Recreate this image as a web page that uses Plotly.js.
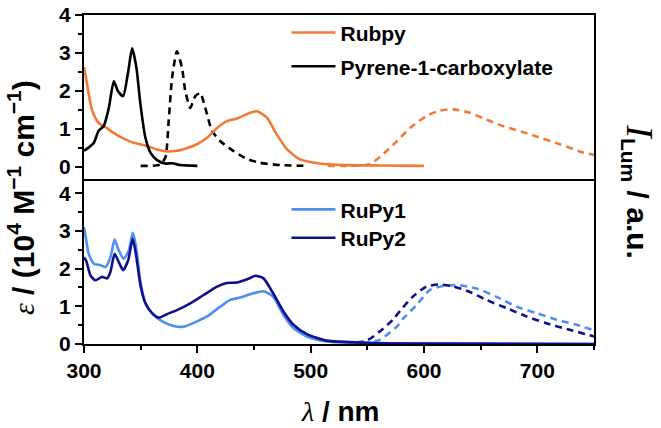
<!DOCTYPE html>
<html><head><meta charset="utf-8">
<script src="https://cdn.plot.ly/plotly-3.0.1.min.js"></script>
<style>html,body{margin:0;padding:0;background:#fff}</style>
</head><body>
<div id="chart" style="width:661px;height:428px"></div>
<script>
// ---- data ----
const rubpyAbsX = [300, 302, 304, 306, 308, 311.6, 316, 320, 326, 335, 343.9, 354, 364.5, 373, 380, 388, 399.7, 408.5, 417.4, 426, 435, 446.7, 452.6, 461.4, 470, 479, 490.7, 508, 532, 560, 600];
const rubpyAbsY = [2.62, 2.3, 1.95, 1.62, 1.42, 1.2, 1.08, 1.02, 0.89, 0.74, 0.63, 0.56, 0.45, 0.4, 0.41, 0.46, 0.59, 0.76, 1.02, 1.2, 1.27, 1.42, 1.46, 1.29, 0.85, 0.46, 0.19, 0.08, 0.04, 0.03, 0.02];
const rubpyEmX = [515, 535, 552, 564, 576, 587.7, 602, 614, 625.8, 640.5, 655, 669.9, 693.4, 719.8, 740.4, 750];
const rubpyEmY = [0.02, 0.02, 0.06, 0.33, 0.67, 1.02, 1.33, 1.48, 1.51, 1.42, 1.24, 1.07, 0.85, 0.59, 0.37, 0.31];
const pyreneAbsX = [300, 304, 308.6, 313, 317.4, 321.9, 326.3, 330, 334.5, 339, 342.5, 346.3, 349.8, 354.2, 358.6, 364.5, 371.8, 377.7, 385, 400];
const pyreneAbsY = [0.42, 0.5, 0.62, 0.95, 1.07, 1.55, 2.25, 1.99, 1.86, 2.51, 3.12, 2.6, 1.64, 0.76, 0.37, 0.17, 0.08, 0.09, 0.04, 0.02];
const pyreneEmX = [350, 367, 371.8, 374.7, 377.7, 382, 386.5, 389.4, 393.8, 398.2, 402.6, 407, 413, 420.3, 432, 443.8, 455.5, 473, 498];
const pyreneEmY = [0.02, 0.05, 0.24, 1.2, 2.34, 3.04, 2.6, 1.99, 1.55, 1.86, 1.94, 1.55, 0.94, 0.67, 0.41, 0.2, 0.1, 0.04, 0.02];

const rupy1AbsX = [300, 302, 304, 308.6, 314.5, 319, 323.3, 327, 330.7, 335, 339.5, 343, 346, 349.8, 354.2, 360, 369, 379, 388, 399.7, 408.5, 420.3, 429, 437.9, 446.7, 458.4, 467, 476, 484.8, 496.6, 514, 540.7, 600, 750];
const rupy1AbsY = [3.1, 2.75, 2.4, 2.13, 2.09, 2.04, 2.3, 2.77, 2.48, 2.26, 2.48, 2.95, 2.57, 1.65, 1.08, 0.82, 0.6, 0.48, 0.46, 0.6, 0.73, 0.99, 1.17, 1.23, 1.32, 1.4, 1.25, 0.77, 0.42, 0.2, 0.07, 0.03, 0.01, 0.0];
const rupy2AbsX = [300, 302, 305.7, 310, 316, 320.4, 323.3, 327, 330.7, 334.5, 339, 343, 346, 349.8, 354.2, 360, 366, 373, 382, 393.8, 405.5, 417.4, 426, 435, 446.7, 451, 458.4, 467, 476, 484.8, 496.6, 514, 534.8, 560, 600, 750];
const rupy2AbsY = [2.3, 2.2, 1.82, 1.69, 1.78, 1.74, 1.91, 2.39, 2.17, 1.96, 2.22, 2.79, 2.35, 1.56, 1.08, 0.82, 0.7, 0.79, 0.9, 1.08, 1.3, 1.52, 1.62, 1.63, 1.75, 1.81, 1.74, 1.34, 0.86, 0.51, 0.26, 0.09, 0.05, 0.02, 0.01, 0.0];
const rupy1EmX = [535, 550, 561, 576, 581.8, 593.6, 605, 617, 631.7, 646.4, 664, 681.7, 699.3, 717, 734.5, 750];
const rupy1EmY = [0.01, 0.03, 0.11, 0.46, 0.68, 1.04, 1.43, 1.54, 1.56, 1.47, 1.25, 0.99, 0.82, 0.64, 0.51, 0.36];
const rupy2EmX = [530, 549.5, 561, 573, 578.9, 590.6, 602, 612.6, 625.8, 640.5, 655, 672.9, 690.5, 708, 725.7, 750];
const rupy2EmY = [0.01, 0.09, 0.33, 0.66, 0.88, 1.27, 1.52, 1.58, 1.53, 1.38, 1.17, 0.95, 0.73, 0.55, 0.4, 0.2];

const seriesNames = ['Rubpy', 'Pyrene-1-carboxylate', 'RuPy1', 'RuPy2'];
const xTicks = [300, 400, 500, 600, 700];
const yTicks = [0, 1, 2, 3, 4];

// ---- styles ----
const ORANGE = '#f07a36', BLACK = '#000000', LIGHT = '#4f8ff0', NAVY = '#10108c';
const FONT = 'Liberation Sans, Arial, sans-serif';
const DASH = '7px,5px';
const LW = 2.6;

function tr(x, y, color, dash, xa, ya, name, legend, show) {
  return {x: x, y: y, type: 'scatter', mode: 'lines', xaxis: xa, yaxis: ya,
    name: name || '', legend: legend || 'legend', showlegend: !!show,
    line: {color: color, width: LW, dash: dash, shape: 'spline', smoothing: 0.6},
    hoverinfo: 'skip'};
}

const data = [
  tr(rubpyEmX, rubpyEmY, ORANGE, DASH, 'x2', 'y2'),
  tr(pyreneEmX, pyreneEmY, BLACK, DASH, 'x2', 'y2'),
  tr(rubpyAbsX, rubpyAbsY, ORANGE, 'solid', 'x2', 'y2', seriesNames[0], 'legend', true),
  tr(pyreneAbsX, pyreneAbsY, BLACK, 'solid', 'x2', 'y2', seriesNames[1], 'legend2', true),
  tr(rupy1EmX, rupy1EmY, LIGHT, DASH, 'x', 'y'),
  tr(rupy2EmX, rupy2EmY, NAVY, DASH, 'x', 'y'),
  tr(rupy1AbsX, rupy1AbsY, LIGHT, 'solid', 'x', 'y', seriesNames[2], 'legend3', true),
  tr(rupy2AbsX, rupy2AbsY, NAVY, 'solid', 'x', 'y', seriesNames[3], 'legend4', true)
];

const tickFont = {family: FONT, size: 21, color: '#000', weight: 'bold'};
const minorY = {dtick: 0.5, tick0: 0, ticks: 'outside', ticklen: 4, tickwidth: 2, tickcolor: '#000'};
const axisCommon = {showline: true, linecolor: '#000', linewidth: 2, mirror: true,
  showgrid: false, zeroline: false, tickcolor: '#000', tickfont: tickFont};

function leg(y) {
  return {x: 0.397, y: y, xanchor: 'left', yanchor: 'middle', bgcolor: 'rgba(0,0,0,0)',
    borderwidth: 0, itemwidth: 44, font: {family: FONT, size: 21, color: '#000', weight: 'bold'}};
}

const layout = {
  width: 661, height: 428,
  margin: {l: 83.5, r: 66.5, t: 13, b: 83.7},
  paper_bgcolor: '#fff', plot_bgcolor: '#fff',
  showlegend: true,
  xaxis: Object.assign({}, axisCommon, {range: [300, 750], domain: [0, 1], anchor: 'y',
    mirror: false, tickvals: xTicks, ticks: 'outside', ticklen: 7, tickwidth: 2,
    minor: {dtick: 50, tick0: 300, ticks: 'outside', ticklen: 4, tickwidth: 2, tickcolor: '#000'}}),
  xaxis2: Object.assign({}, axisCommon, {range: [300, 750], domain: [0, 1], anchor: 'y2',
    matches: 'x', showticklabels: false, ticks: ''}),
  yaxis: Object.assign({}, axisCommon, {range: [0, 4.38], domain: [0, 0.502], anchor: 'x',
    tickvals: yTicks, ticks: 'outside', ticklen: 7, tickwidth: 2, minor: minorY}),
  yaxis2: Object.assign({}, axisCommon, {range: [-0.323, 4.0], domain: [0.502, 1], anchor: 'x2',
    tickvals: yTicks, ticks: 'outside', ticklen: 7, tickwidth: 2, minor: minorY}),
  legend: leg(0.9457),
  legend2: leg(0.843),
  legend3: leg(0.408),
  legend4: leg(0.322),
  annotations: [
    {xref: 'paper', yref: 'paper', x: -0.122, y: 0.446, xanchor: 'center', yanchor: 'middle',
     textangle: -90, showarrow: false,
     font: {family: FONT, size: 30, color: '#000', weight: 'bold'},
     text: "<i style=\"font-family:'Liberation Serif',serif;font-weight:normal\">ε</i> / (10<sup>4</sup> M<sup>−1</sup> cm<sup>−1</sup>)"},
    {xref: 'paper', yref: 'paper', x: 1.089, y: 0.463, xanchor: 'center', yanchor: 'middle',
     textangle: 90, showarrow: false,
     font: {family: FONT, size: 30, color: '#000', weight: 'bold'},
     text: "<i style=\"font-family:'Liberation Serif',serif;font-weight:normal;font-size:38px\">I</i><sub>Lum</sub> / a.u."},
    {xref: 'paper', yref: 'paper', x: 0.502, y: -0.204, xanchor: 'center', yanchor: 'middle',
     showarrow: false,
     font: {family: FONT, size: 28, color: '#000', weight: 'bold'},
     text: "<i style=\"font-family:'Liberation Serif',serif;font-weight:normal\">λ</i> / nm"}
  ]
};

Plotly.newPlot('chart', data, layout, {displayModeBar: false, staticPlot: true});
</script>
</body></html>
